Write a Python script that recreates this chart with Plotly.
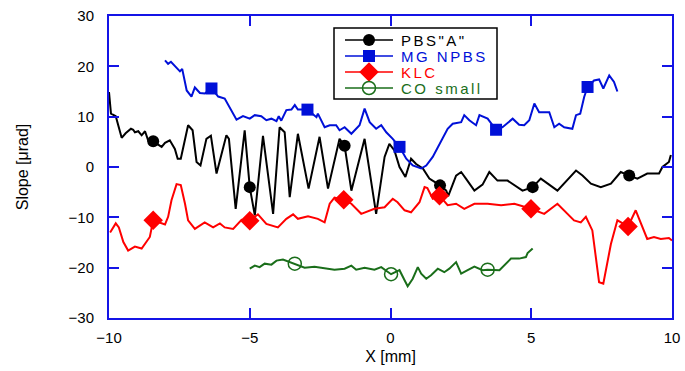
import plotly.graph_objects as go

# ---------------- data ----------------
pbs_x = [-10.0, -9.93, -9.76, -9.55, -9.41, -9.22, -9.14, -9.08, -8.96, -8.84, -8.72, -8.61, -8.43,
         -8.13, -8.01, -7.84, -7.66, -7.56, -7.45, -7.19, -7.03, -6.89, -6.75, -6.54, -6.38, -6.18,
         -5.83, -5.74, -5.50, -5.18, -5.00, -4.82, -4.53, -4.17, -3.94, -3.76, -3.58, -3.29, -2.91,
         -2.52, -2.22, -1.81, -1.63, -1.39, -0.92, -0.51, -0.21, -0.04, 0.14, 0.32, 0.53, 0.73, 0.91,
         1.15, 1.38, 1.76, 1.98, 2.05, 2.33, 2.51, 2.68, 2.98, 3.27, 3.51, 3.80, 4.16, 4.69, 5.05,
         5.34, 5.93, 6.59, 6.82, 7.12, 7.47, 7.83, 8.18, 8.48, 8.77, 9.12, 9.54, 9.66, 9.89, 9.96]
pbs_y = [14.9, 10.6, 10.1, 5.8, 6.7, 7.6, 7.4, 6.9, 7.1, 6.3, 7.1, 5.3, 5.1,
         4.0, 4.8, 5.3, 3.6, 1.65, 1.65, 8.3, 7.3, 1.0, 0.3, 5.6, 6.2, -1.3,
         6.3, 5.6, -8.3, 7.3, -4.0, -9.6, 6.2, -9.3, 7.9, 6.9, -6.0, 6.6, -4.3,
         6.0, -4.3, 5.6, 4.2, -4.7, 5.6, -9.3, 2.0, 4.6, 3.3, 0.0, -2.0, 1.65, 0.6,
         -0.3, -2.3, -3.65, -4.7, -5.8, -1.7, -1.0, -2.3, -4.7, -3.5, -1.0, -2.7, -2.7, -4.7, -4.0,
         -2.3, -4.7, -0.7, -1.7, -3.3, -4.0, -3.3, -1.0, -1.7, -2.3, -1.3, -1.3, 0.0, 1.0, 2.4]
pbs_mx = [-8.43, -5.00, -1.63, 1.76, 5.05, 8.48]
pbs_my = [5.1, -4.0, 4.2, -3.65, -4.0, -1.7]

mg_x = [-8.01, -7.90, -7.80, -7.66, -7.48, -7.40, -7.24, -7.07, -6.95, -6.77, -6.60, -6.36, -6.12,
        -5.89, -5.71, -5.47, -5.24, -5.00, -4.82, -4.59, -4.41, -4.23, -4.05, -3.97, -3.88, -3.70,
        -3.52, -3.40, -3.29, -2.95, -2.63, -2.58, -2.34, -2.16, -1.93, -1.81, -1.63, -1.39, -1.10,
        -0.92, -0.74, -0.51, -0.33, -0.15, 0.08, 0.32, 0.56, 0.79, 1.09, 1.27, 1.50, 1.80, 2.03,
        2.21, 2.51, 2.62, 2.80, 3.04, 3.16, 3.45, 3.75, 3.98, 4.34, 4.57, 4.75, 4.93, 5.11, 5.28,
        5.64, 5.82, 5.99, 6.17, 6.46, 6.59, 6.74, 6.88, 7.00, 7.23, 7.41, 7.56, 7.77, 7.94, 8.06]
mg_y = [21.2, 20.5, 20.9, 20.0, 19.0, 19.5, 15.2, 14.0, 15.8, 14.7, 14.6, 15.6, 14.0,
        13.6, 11.9, 9.4, 10.1, 9.6, 10.3, 10.1, 9.3, 9.6, 9.1, 10.1, 9.2, 11.3,
        11.4, 12.3, 11.4, 11.4, 9.9, 10.6, 7.9, 8.3, 8.3, 7.3, 7.9, 6.6, 8.3,
        11.6, 8.9, 7.6, 8.3, 6.9, 5.6, 4.0, 1.65, 0.3, -0.3, 0.3, 2.0, 5.0, 7.6,
        8.6, 8.9, 10.3, 9.3, 8.3, 10.3, 9.6, 7.4, 7.9, 9.6, 8.4, 8.3, 9.3, 12.6, 10.9,
        10.9, 7.9, 8.6, 7.9, 7.6, 10.3, 10.6, 13.9, 15.9, 17.2, 17.4, 15.6, 18.2, 16.9, 15.0]
mg_mx = [-6.36, -2.95, 0.32, 3.75, 7.00]
mg_my = [15.6, 11.4, 4.0, 7.4, 15.9]

klc_x = [-9.96, -9.76, -9.65, -9.49, -9.32, -9.08, -8.84, -8.66, -8.55, -8.43, -8.19, -8.01, -7.90,
         -7.78, -7.60, -7.45, -7.30, -7.19, -6.95, -6.60, -6.30, -6.06, -5.89, -5.59, -5.29, -5.00,
         -4.71, -4.41, -4.00, -3.70, -3.46, -3.29, -2.93, -2.58, -2.34, -2.16, -1.99, -1.66, -1.39,
         -1.04, -0.57, -0.21, 0.08, 0.25, 0.50, 0.73, 1.03, 1.21, 1.31, 1.50, 1.74, 2.03, 2.33,
         2.62, 2.98, 3.45, 3.93, 4.40, 4.99, 5.46, 5.93, 6.52, 6.76, 6.94, 7.17, 7.41, 7.56, 7.83,
         8.06, 8.23, 8.44, 8.71, 9.12, 9.36, 9.60, 9.89, 10.0]
klc_y = [-13.0, -11.2, -12.0, -14.9, -16.6, -15.8, -16.2, -14.6, -13.9, -10.6, -11.0, -11.4, -9.9,
         -6.6, -3.4, -3.6, -7.3, -10.6, -12.3, -11.0, -12.0, -11.2, -12.0, -12.3, -10.5, -10.7,
         -9.4, -11.3, -12.0, -10.3, -9.4, -10.3, -9.8, -10.3, -11.0, -7.3, -6.1, -6.5, -7.3,
         -9.3, -8.3, -8.0, -6.3, -7.0, -8.6, -9.0, -7.0, -4.0, -4.2, -6.3, -5.7, -7.6, -7.3,
         -8.3, -7.3, -7.3, -7.6, -7.3, -8.3, -9.3, -7.3, -10.6, -11.0, -9.9, -12.6, -22.9, -23.2, -15.3,
         -10.6, -11.2, -11.8, -8.6, -14.3, -13.9, -14.3, -14.1, -14.6]
klc_mx = [-8.43, -5.00, -1.66, 1.74, 4.99, 8.44]
klc_my = [-10.6, -10.7, -6.5, -5.7, -8.3, -11.8]

co_x = [-5.00, -4.82, -4.65, -4.47, -4.23, -4.05, -3.82, -3.40, -3.05, -2.70, -2.46, -1.99, -1.63,
        -1.39, -1.22, -0.92, -0.57, -0.33, 0.02, 0.32, 0.50, 0.61, 0.79, 0.97, 1.09, 1.27, 1.44,
        1.68, 1.91, 2.09, 2.33, 2.51, 2.74, 2.98, 3.27, 3.45, 3.87, 4.04, 4.28, 4.57, 4.81, 4.87, 5.05]
co_y = [-20.2, -19.6, -19.9, -19.2, -19.4, -18.6, -18.4, -19.2, -20.0, -19.8, -20.0, -20.4, -20.2,
        -19.6, -20.4, -20.0, -20.4, -19.9, -21.3, -20.5, -22.5, -23.7, -22.2, -19.9, -21.2, -22.2, -21.5,
        -20.2, -20.9, -20.2, -18.9, -21.2, -20.5, -19.8, -20.5, -20.4, -20.5, -19.6, -18.2, -18.2, -17.9, -17.1, -16.2]
co_mx = [-3.40, 0.02, 3.45]
co_my = [-19.2, -21.3, -20.4]

series_names = ['PBS"A"', "MG NPBS", "KLC", "CO small"]
x_ticks = [-10, -5, 0, 5, 10]
y_ticks = [-30, -20, -10, 0, 10, 20, 30]

# ---------------- styles ----------------
FONT = "Liberation Sans, Arial, sans-serif"
FRAME = "#1414e6"
colors = ["#000000", "#0010d8", "#ff0000", "#1a6e1a"]
markers = [
    dict(symbol="circle", size=12, color=colors[0]),
    dict(symbol="square", size=12, color=colors[1]),
    dict(symbol="diamond", size=15, color=colors[2]),
    dict(symbol="circle-open", size=13, color=colors[3], line=dict(width=1.5, color=colors[3])),
]
data = [(pbs_x, pbs_y, pbs_mx, pbs_my), (mg_x, mg_y, mg_mx, mg_my),
        (klc_x, klc_y, klc_mx, klc_my), (co_x, co_y, co_mx, co_my)]

fig = go.Figure()
for (xs, ys, mx, my), col, mk, name in zip(data, colors, markers, series_names):
    fig.add_trace(go.Scatter(x=xs, y=ys, mode="lines", line=dict(color=col, width=2),
                             name=name, showlegend=False, hoverinfo="skip"))
    fig.add_trace(go.Scatter(x=mx, y=my, mode="markers", marker=mk, name=name, showlegend=False))

# ---- legend drawn on a pixel-scaled overlay axis (x2/y2) ----
L_X0, L_X1, L_Y0, L_Y1 = 334, 497, 28, 99
ROW_Y = [40, 56, 72, 88]
SYM_X0, SYM_X1, TXT_X = 345, 393, 399
for i, (col, mk, name) in enumerate(zip(colors, markers, series_names)):
    fig.add_trace(go.Scatter(x=[SYM_X0, SYM_X1], y=[ROW_Y[i], ROW_Y[i]], mode="lines",
                             line=dict(color=col, width=1.5), xaxis="x2", yaxis="y2",
                             showlegend=False, hoverinfo="skip"))
    fig.add_trace(go.Scatter(x=[(SYM_X0 + SYM_X1) / 2], y=[ROW_Y[i]], mode="markers",
                             marker=mk, xaxis="x2", yaxis="y2", showlegend=False,
                             hoverinfo="skip"))
    fig.add_annotation(x=TXT_X, y=ROW_Y[i], xref="x2", yref="y2", xanchor="left",
                       yanchor="middle", showarrow=False,
                       text=f'<span style="letter-spacing:2.5px">{name}</span>',
                       font=dict(family=FONT, size=15, color=col))
fig.add_shape(type="rect", xref="x2", yref="y2", x0=L_X0, x1=L_X1, y0=L_Y0, y1=L_Y1,
              line=dict(color="#000000", width=1.5), fillcolor="white", layer="below")

axis_common = dict(showline=True, linecolor=FRAME, linewidth=2, mirror="ticks",
                   ticks="inside", ticklen=10, tickwidth=2, tickcolor=FRAME,
                   showgrid=False, zeroline=False,
                   tickfont=dict(family=FONT, size=15, color="#000000"))

fig.update_layout(
    width=685, height=371,
    margin=dict(l=109, r=13, t=16, b=53, autoexpand=False),
    paper_bgcolor="white", plot_bgcolor="white",
    font=dict(family=FONT, size=15, color="#000000"),
    showlegend=False,
    xaxis=dict(range=[-10, 10], tickvals=x_ticks, ticklabelstandoff=5,
               title=dict(text="X [mm]", font=dict(family=FONT, size=16), standoff=6),
               **axis_common),
    yaxis=dict(range=[-30, 30], tickvals=y_ticks, ticklabelstandoff=10,
               title=dict(text="Slope [μrad]", font=dict(family=FONT, size=16), standoff=36),
               **axis_common),
    xaxis2=dict(overlaying="x", range=[109, 672], visible=False, fixedrange=True),
    yaxis2=dict(overlaying="y", range=[318, 16], visible=False, fixedrange=True),
)

fig.write_html("out.html")
